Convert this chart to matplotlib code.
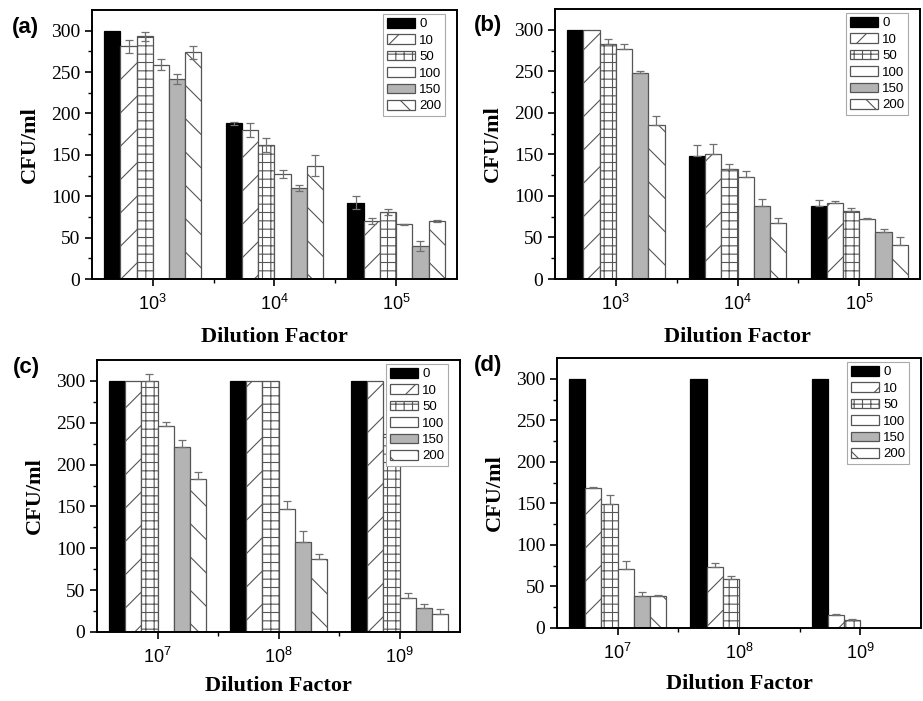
import matplotlib
matplotlib.use('Agg')
import matplotlib.pyplot as plt
import numpy as np

plt.rcParams['hatch.linewidth'] = 0.8
plt.rcParams['mathtext.fontset'] = 'custom'
plt.rcParams['mathtext.rm'] = 'Liberation Sans'
plt.rcParams['mathtext.it'] = 'Liberation Sans'

conc = ['0', '10', '50', '100', '150', '200']
groups_ab = ['$10^3$', '$10^4$', '$10^5$']
groups_cd = ['$10^7$', '$10^8$', '$10^9$']

# rows = concentration, columns = dilution group
a_vals = [[300, 188, 92], [281, 180, 70], [293, 162, 81],
          [259, 127, 66], [242, 110, 40], [274, 137, 70]]
a_err = [[0, 2, 8], [8, 9, 4], [5, 8, 4], [7, 5, 1], [6, 4, 6], [8, 13, 1]]

b_vals = [[300, 148, 88], [300, 151, 91], [283, 132, 82],
          [277, 123, 72], [248, 88, 56], [185, 68, 41]]
b_err = [[0, 13, 7], [0, 12, 3], [6, 6, 4], [6, 7, 2], [2, 8, 4], [11, 5, 9]]

c_vals = [[300, 300, 300], [300, 300, 300], [300, 300, 236],
          [246, 147, 41], [221, 108, 29], [183, 87, 22]]
c_err = [[0, 0, 0], [0, 0, 0], [8, 0, 0], [5, 9, 6], [9, 13, 5], [8, 6, 5]]

d_vals = [[300, 300, 300], [169, 73, 16], [149, 59, 10],
          [71, 0, 0], [38, 0, 0], [39, 0, 0]]
d_err = [[0, 0, 0], [1, 5, 1], [11, 3, 1], [10, 0, 0], [5, 0, 0], [1, 0, 0]]

fills = ['black', 'white', 'white', 'white', '#b4b4b4', 'white']
hatches = [None, '/', '++', None, None, '\\']
edge = '#555555'


def panel(ax, vals, err, groups, both_sides, xpad):
    x = np.arange(len(groups))
    w = 0.8 / len(conc)
    for k in range(len(conc)):
        xs = x - 0.4 + w * (k + 0.5)
        ec = 'black' if k == 0 else edge
        ax.bar(xs, vals[k], w, color=fills[k], edgecolor=ec, hatch=hatches[k],
               linewidth=0.9, label=conc[k], zorder=2)
        e = np.array(err[k], dtype=float)
        m = e > 0
        if m.any():
            v = np.array(vals[k], dtype=float)
            lo = e[m] if both_sides else np.zeros(m.sum())
            ax.errorbar(xs[m], v[m], yerr=[lo, e[m]], fmt='none', ecolor='#707070',
                        elinewidth=0.9, capsize=3, capthick=0.9, zorder=3)
    ax.set_xlim(-0.5, 2.5)
    ax.set_ylim(0, 325)
    ax.set_xticks(x)
    ax.set_xticklabels(groups, fontsize=13, family='Liberation Sans')
    ax.set_xticks([0.5, 1.5], minor=True)
    ax.set_yticks(np.arange(0, 301, 50))
    ax.set_yticks(np.arange(25, 301, 50), minor=True)
    for t in ax.get_yticklabels():
        t.set_family('Liberation Serif')
        t.set_fontsize(14)
    ax.tick_params(which='both', direction='out', top=False, right=False)
    ax.tick_params(which='major', length=5, width=1.2)
    ax.tick_params(which='minor', length=3, width=1.0)
    ax.tick_params(axis='x', pad=6)
    for s in ax.spines.values():
        s.set_linewidth(1.4)
    ax.set_ylabel('CFU/ml', family='Liberation Serif', fontweight='bold', fontsize=16, labelpad=8)
    ax.set_xlabel('Dilution Factor', family='Liberation Serif', fontweight='bold', fontsize=16, labelpad=xpad)
    leg = ax.legend(loc='upper right', bbox_to_anchor=(0.975, 0.995),
                    prop={'family': 'Liberation Sans', 'size': 9.5},
                    handlelength=2.1, handleheight=0.75, labelspacing=0.3,
                    handletextpad=0.3, borderpad=0.3, borderaxespad=0.2,
                    fancybox=False, framealpha=1)
    leg.get_frame().set_edgecolor('#aaaaaa')
    leg.get_frame().set_linewidth(0.8)


fig = plt.figure(figsize=(9.23, 7.01), dpi=100)
axa = fig.add_axes([92 / 923, 1 - 279 / 701, 365 / 923, 269 / 701])
axb = fig.add_axes([555 / 923, 1 - 279 / 701, 365 / 923, 270 / 701])
axc = fig.add_axes([97 / 923, 1 - 632 / 701, 363 / 923, 272 / 701])
axd = fig.add_axes([557 / 923, 1 - 628 / 701, 364 / 923, 270 / 701])

panel(axa, a_vals, a_err, groups_ab, True, 9)
panel(axb, b_vals, b_err, groups_ab, False, 9)
panel(axc, c_vals, c_err, groups_cd, False, 6)
panel(axd, d_vals, d_err, groups_cd, False, 8)

lab = dict(fontsize=16, fontweight='bold', family='Liberation Sans', va='center', ha='left')
fig.text(12 / 923, 1 - 27 / 701, '(a)', **lab)
fig.text(474 / 923, 1 - 26 / 701, '(b)', **lab)
fig.text(13 / 923, 1 - 367 / 701, '(c)', **lab)
fig.text(474 / 923, 1 - 366 / 701, '(d)', **lab)

fig.savefig('out.png', dpi=100)
